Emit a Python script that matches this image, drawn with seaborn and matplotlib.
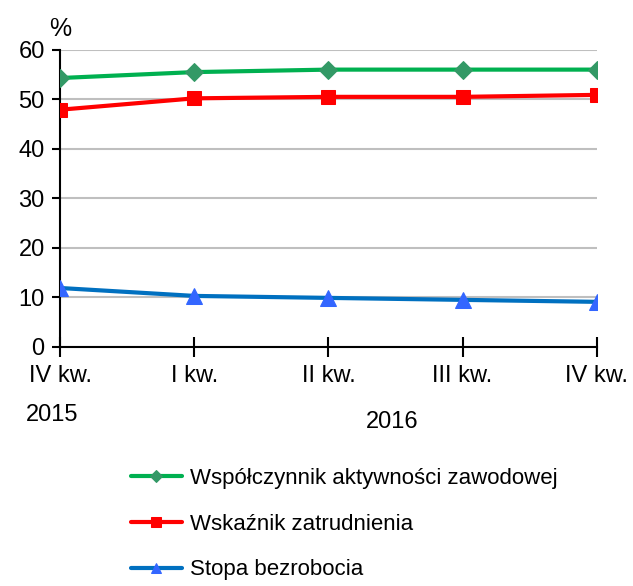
import pandas as pd
import matplotlib
matplotlib.use("Agg")
import matplotlib.pyplot as plt
import seaborn as sns

# Data
quarters = ["IV kw.", "I kw.", "II kw.", "III kw.", "IV kw. "]
aktywnosc = [54.3, 55.5, 56.0, 56.0, 56.0]
zatrudnienie = [47.9, 50.2, 50.5, 50.5, 50.9]
bezrobocie = [11.9, 10.3, 9.9, 9.5, 9.1]

names = ["Współczynnik aktywności zawodowej", "Wskaźnik zatrudnienia", "Stopa bezrobocia"]
line_colors = ["#00B050", "#FF0000", "#0070C0"]
marker_colors = ["#339966", "#FF0000", "#3366FF"]
markers = ["D", "s", "^"]
marker_sizes = [9, 10, 11]

df = pd.DataFrame({"Kwartał": list(range(len(quarters))) * 3,
                   "Wartość": aktywnosc + zatrudnienie + bezrobocie,
                   "Seria": [n for n in names for _ in quarters]})

sns.set_style("white")
plt.rcParams["font.family"] = ["Liberation Sans", "DejaVu Sans"]
plt.rcParams["text.color"] = "black"
plt.rcParams["xtick.color"] = "black"
plt.rcParams["ytick.color"] = "black"

fig = plt.figure(figsize=(6.33, 5.86), dpi=100)
ax = fig.add_axes([0.0948, 0.408, 0.848, 0.507])

for name, lc, mc, m, ms in zip(names, line_colors, marker_colors, markers, marker_sizes):
    sub = df[df["Seria"] == name]
    sns.lineplot(data=sub, x="Kwartał", y="Wartość", ax=ax, color=lc, linewidth=3,
                 marker=m, markersize=ms, markerfacecolor=mc, markeredgecolor=mc,
                 label=name, zorder=3)

ax.set_xlim(0, len(quarters) - 1)
ax.set_ylim(0, 60)
ax.set_yticks(range(0, 61, 10))
ax.set_xticks(range(len(quarters)))
ax.set_xticklabels([q.strip() for q in quarters])
ax.yaxis.grid(True, color="#BFBFBF", linewidth=1.5)
ax.xaxis.grid(False)
ax.set_xlabel("")
ax.set_ylabel("")
for s in ["top", "right"]:
    ax.spines[s].set_visible(False)
for s in ["left", "bottom"]:
    ax.spines[s].set_color("black")
    ax.spines[s].set_linewidth(1.5)
ax.tick_params(axis="y", direction="out", length=6, width=1.5, left=True, labelsize=17, pad=5,
               colors="black")
ax.tick_params(axis="x", direction="inout", length=14, width=1.5, bottom=True, labelsize=17, pad=6,
               colors="black")

ax.text(0.0, 1.03, "%", transform=ax.transAxes, fontsize=18, ha="center", va="bottom")
fig.text(0.082, 0.292, "2015", fontsize=17, ha="center", va="center")
fig.text(0.62, 0.28, "2016", fontsize=17, ha="center", va="center")

handles, labels = ax.get_legend_handles_labels()
ax.legend_.remove()
leg = fig.legend(handles, labels, loc="upper left", bbox_to_anchor=(0.175, 0.236), frameon=False,
                 fontsize=16, handlelength=2.3, handletextpad=0.35, labelspacing=1.12,
                 markerscale=0.7)
for t in leg.get_texts():
    t.set_color("black")

fig.savefig("out.png", dpi=100)
